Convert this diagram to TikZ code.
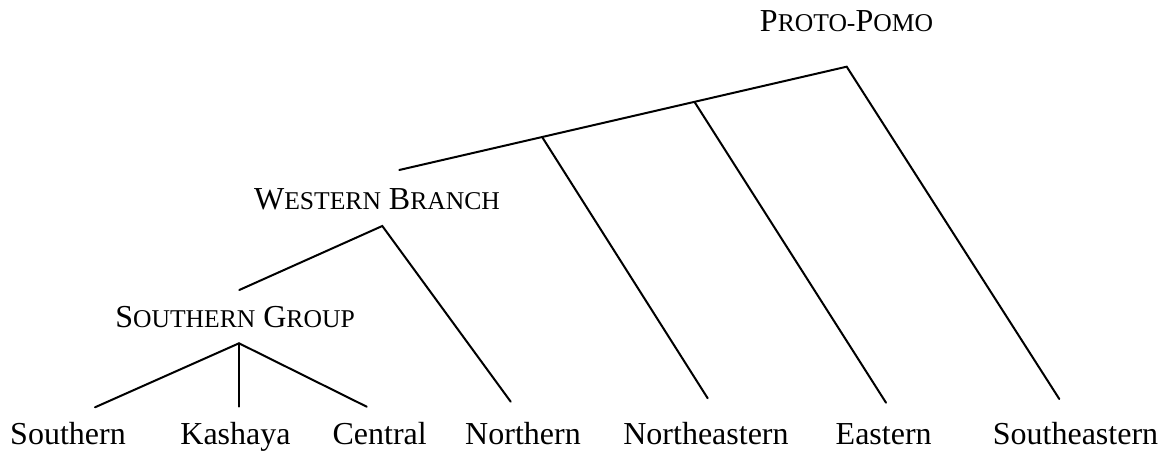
\documentclass[tikz,border=0pt]{standalone}
\usepackage{fontspec}
\setmainfont{Liberation Serif}
\usepackage{tikz}
\newcommand{\smcap}[1]{{\fontsize{9.6}{11}\selectfont\MakeUppercase{#1}}}

\begin{document}
\begin{tikzpicture}[
    x=0.375pt, y=-0.375pt,
    group/.style={anchor=base, inner sep=0pt, font=\fontsize{12}{14}\selectfont},
    leaf/.style={anchor=base, inner sep=0pt, font=\fontsize{12}{14}\selectfont},
    branch/.style={line width=0.75pt, line cap=round, line join=miter}
]
    \useasboundingbox (0,0) rectangle (1164,451);

    % group labels
    \node[group] (proto) at (846.5,32) {P\smcap{roto-}P\smcap{omo}};
    \node[group] (western) at (377,209.3) {W\smcap{estern} B\smcap{ranch}};
    \node[group] (southgrp) at (235,327.7) {S\smcap{outhern} G\smcap{roup}};

    % languages
    \node[leaf] (southern) at (68,445) {Southern};
    \node[leaf] (kashaya) at (235.5,445) {Kashaya};
    \node[leaf] (central) at (379.7,445) {Central};
    \node[leaf] (northern) at (523,445) {Northern};
    \node[leaf] (northeastern) at (706,445) {Northeastern};
    \node[leaf] (eastern) at (883.7,445) {Eastern};
    \node[leaf] (southeastern) at (1075.5,445) {Southeastern};

    % branch points
    \coordinate (proto-root) at (846.7,66.7);
    \coordinate (western-top) at (399.3,170);
    \coordinate (ne-split) at (542.3,137.3);
    \coordinate (e-split) at (695,102.7);
    \coordinate (western-root) at (382.3,226);
    \coordinate (southgrp-top) at (239.3,290);
    \coordinate (southgrp-root) at (239,343.3);

    % tops of the language lines
    \coordinate (southern-top) at (95,407.3);
    \coordinate (kashaya-top) at (239,406.7);
    \coordinate (central-top) at (366.7,406.7);
    \coordinate (northern-top) at (510.7,401.7);
    \coordinate (northeastern-top) at (707.7,398.3);
    \coordinate (eastern-top) at (886,402.7);
    \coordinate (southeastern-top) at (1059.3,399);

    \draw[branch] (western-top) -- (proto-root) -- (southeastern-top);
    \draw[branch] (ne-split) -- (northeastern-top);
    \draw[branch] (e-split) -- (eastern-top);
    \draw[branch] (southgrp-top) -- (western-root) -- (northern-top);
    \draw[branch] (southern-top) -- (southgrp-root) -- (central-top);
    \draw[branch] (southgrp-root) -- (kashaya-top);
\end{tikzpicture}
\end{document}
